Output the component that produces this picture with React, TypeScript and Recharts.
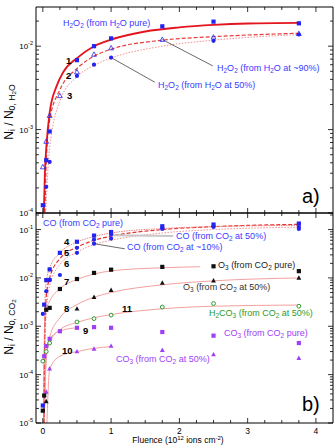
import React from 'react';
import { ComposedChart, Line, Scatter, XAxis, YAxis, ReferenceLine } from 'recharts';

const FONT = '"Liberation Sans", Arial, sans-serif';

// ---- panel a) H2O2 produced from H2O ----
const fluenceA = [0, 0.05, 0.1, 0.25, 0.5, 0.75, 1, 1.75, 2.5, 3.75];
const h2o2Pure = [1.24e-4, 4.3e-4, 9.5e-4, null, 6.8e-3, 1.0e-2, 1.24e-2, 1.73e-2, 1.97e-2, 1.88e-2];
const h2o2At90 = [3.56e-4, 7.2e-4, 1.47e-3, 2.54e-3, 4.9e-3, 7.96e-3, 9.5e-3, 1.2e-2, 1.28e-2, 1.41e-2];
const h2o2At50 = [null, 2.06e-4, 4.1e-4, null, 4.4e-3, 6.0e-3, 7.3e-3, null, 1.16e-2, 1.38e-2];

// fit curves
const fit1X = [0.015, 0.03, 0.05, 0.1, 0.2, 0.3, 0.5, 0.75, 1, 1.5, 2, 2.5, 3, 3.75];
const fit1Y = [1e-4, 3e-4, 6e-4, 1.6e-3, 3.3e-3, 4.9e-3, 7.2e-3, 1.0e-2, 1.2e-2, 1.5e-2, 1.68e-2, 1.8e-2, 1.87e-2, 1.9e-2];
const fit2X = [0.03, 0.05, 0.1, 0.25, 0.5, 0.75, 1, 1.75, 2.5, 3.75];
const fit2Y = [1e-4, 4e-4, 1.3e-3, 3e-3, 5.4e-3, 7.6e-3, 9.2e-3, 1.18e-2, 1.3e-2, 1.43e-2];
const fit3X = [0.04, 0.1, 0.25, 0.5, 0.75, 1, 1.75, 2.5, 3.75];
const fit3Y = [1e-4, 6e-4, 2.2e-3, 4.3e-3, 5.9e-3, 7.2e-3, 1.0e-2, 1.18e-2, 1.38e-2];

// ---- panel b) products from CO2 ----
const fluenceB = [0, 0.02, 0.05, 0.1, 0.25, 0.5, 0.75, 1, 1.75, 2.5, 3.75];
const coPure = [2.3e-5, 2.8e-3, 9e-3, 1.5e-2, 3.3e-2, 5.6e-2, 7.5e-2, 8.9e-2, 1.17e-1, 1.27e-1, 1.33e-1];
const coAt50 = [null, null, null, 9e-3, 1.15e-2, 4.2e-2, 6.2e-2, 7.9e-2, 1.03e-1, 1.17e-1, 1.03e-1];
const coAt10 = [1.8e-3, null, 5.3e-3, 9.2e-3, null, 3.3e-2, 5.1e-2, 6.5e-2, 1.08e-1, 1.13e-1, 1.13e-1];
const o3Pure = [1.8e-5, 3.7e-5, 2.2e-3, 2.4e-3, 5.9e-3, 9.5e-3, 1.27e-2, 1.48e-2, 1.69e-2, 1.74e-2, 1.38e-2];
const o3At50 = [null, null, 2.8e-5, null, null, 2.3e-3, 4.0e-3, 5.6e-3, 7.9e-3, 8.8e-3, 1.0e-2];
const h2co3At50 = [1.9e-4, null, 3.0e-4, 4.5e-4, null, 1.23e-3, 1.44e-3, 1.7e-3, 2.5e-3, 2.95e-3, 2.6e-3];
const co3Pure = [null, 2.4e-4, 3.9e-4, 5.5e-4, 7.9e-4, 9.3e-4, 9.6e-4, 9.3e-4, 7.6e-4, 6.4e-4, 4.5e-4];
const co3At50 = [null, null, 4.4e-5, 1.33e-4, null, 3.0e-4, 3.4e-4, 3.9e-4, 3.2e-4, 2.6e-4, 2.2e-4];

const fit4X = [0.01, 0.03, 0.05, 0.1, 0.25, 0.5, 0.75, 1, 1.75, 2.5, 3.75];
const fit4Y = [1e-5, 3e-3, 8e-3, 1.6e-2, 3.3e-2, 5.5e-2, 7.2e-2, 8.5e-2, 1.05e-1, 1.15e-1, 1.22e-1];
const fit5X = [0.015, 0.03, 0.05, 0.1, 0.25, 0.5, 0.75, 1, 1.75, 2.5, 3.75];
const fit5Y = [1e-5, 1e-3, 4e-3, 1e-2, 2.5e-2, 4.3e-2, 6e-2, 7.3e-2, 1e-1, 1.15e-1, 1.28e-1];
const fit6X = [0.02, 0.04, 0.1, 0.25, 0.5, 0.75, 1, 1.75, 2.5, 3.75];
const fit6Y = [1e-5, 1e-3, 7e-3, 1.9e-2, 3.4e-2, 4.9e-2, 6e-2, 8.5e-2, 1e-1, 1.12e-1];
const fit7X = [0.01, 0.03, 0.05, 0.1, 0.25, 0.5, 0.75, 1, 1.75, 2.3];
const fit7Y = [1e-5, 1e-3, 2.2e-3, 3.3e-3, 6e-3, 9.3e-3, 1.2e-2, 1.4e-2, 1.62e-2, 1.7e-2];
const fit8X = [0.02, 0.05, 0.1, 0.25, 0.5, 0.75, 1, 1.75, 2.5, 3.75];
const fit8Y = [1e-5, 2e-4, 6e-4, 1.5e-3, 2.8e-3, 4e-3, 5e-3, 7.2e-3, 8.7e-3, 1e-2];
const fit9X = [0.02, 0.05, 0.1, 0.25, 0.5];
const fit9Y = [1e-5, 3e-4, 5.3e-4, 8e-4, 9.3e-4];
const fit10X = [0.06, 0.1, 0.25, 0.5, 0.75, 1];
const fit10Y = [1e-5, 1.3e-4, 2.4e-4, 3e-4, 3.5e-4, 3.8e-4];
const fit11X = [0.02, 0.05, 0.1, 0.25, 0.5, 0.75, 1, 1.75, 2.5, 3.75];
const fit11Y = [1e-5, 2.5e-4, 4.5e-4, 8.5e-4, 1.2e-3, 1.5e-3, 1.75e-3, 2.3e-3, 2.6e-3, 2.75e-3];

const xMajor = [0, 1, 2, 3, 4];
const xTicks = [0, 0.25, 0.5, 0.75, 1, 1.25, 1.5, 1.75, 2, 2.25, 2.5, 2.75, 3, 3.25, 3.5, 3.75, 4];
const decadesA = [1e-4, 1e-3, 1e-2];
const decadesB = [1e-5, 1e-4, 1e-3, 1e-2, 1e-1];
const mult = [1, 2, 3, 4, 5, 6, 7, 8, 9];
const yTicksA = decadesA.flatMap((d) => mult.map((m) => m * d)).filter((v) => v < 0.029);
const yTicksB = decadesB.flatMap((d) => mult.map((m) => m * d)).filter((v) => v < 0.21);

const pts = (xs: number[], ys: (number | null)[]) =>
  xs.map((x, i) => ({ x, y: ys[i] })).filter((p) => p.y != null);

const BLUE = '#2424f0';
const TXT_BLUE = '#3a3aff';
const GREEN = '#2a9a2a';
const PURPLE = '#a040f5';
const BLACK = '#111';

const isDecade = (v: number) => Math.abs(Math.log10(v) - Math.round(Math.log10(v))) < 1e-6;

const LeftTick = (p: any) => {
  const v = p.payload.value;
  const major = isDecade(v);
  return (
    <g>
      <line x1={p.x} x2={p.x + (major ? 5 : 3)} y1={p.y} y2={p.y} stroke="#000" strokeWidth={0.8} />
      {major && (
        <text x={p.x - 3} y={p.y + 3} textAnchor="end" fontSize={8} fontFamily={FONT} fill="#000">
          10<tspan dy={-4} fontSize={5.5}>{Math.round(Math.log10(v))}</tspan>
        </text>
      )}
    </g>
  );
};
const RightTick = (p: any) => {
  const major = isDecade(p.payload.value);
  return <line x1={p.x} x2={p.x - (major ? 5 : 3)} y1={p.y} y2={p.y} stroke="#000" strokeWidth={0.8} />;
};
const TopTick = (p: any) => {
  const major = xMajor.includes(p.payload.value);
  return <line x1={p.x} x2={p.x} y1={p.y} y2={p.y + (major ? 5 : 3)} stroke="#000" strokeWidth={0.8} />;
};
const BottomTick = (withLabel: boolean) => (p: any) => {
  const major = xMajor.includes(p.payload.value);
  return (
    <g>
      <line x1={p.x} x2={p.x} y1={p.y} y2={p.y - (major ? 5 : 3)} stroke="#000" strokeWidth={0.8} />
      {withLabel && major && (
        <text x={p.x} y={p.y + 11} textAnchor="middle" fontSize={8.5} fontFamily={FONT} fill="#000">
          {p.payload.value}
        </text>
      )}
    </g>
  );
};

const square = (fill: string) => (p: any) => <rect x={p.cx - 2.1} y={p.cy - 2.1} width={4.2} height={4.2} fill={fill} />;
const dot = (fill: string, open = false) => (p: any) => (
  <circle cx={p.cx} cy={p.cy} r={open ? 1.9 : 2.1} fill={open ? '#fff' : fill} stroke={fill} strokeWidth={open ? 1 : 0} />
);
const tri = (fill: string, open = false) => (p: any) => (
  <polygon
    points={`${p.cx},${p.cy - 2.6} ${p.cx - 2.4},${p.cy + 1.8} ${p.cx + 2.4},${p.cy + 1.8}`}
    fill={open ? 'none' : fill}
    stroke={fill}
    strokeWidth={open ? 0.8 : 0}
  />
);

// axes: one pixel thick so recharts still lays them out, ticks drawn inward by the tick renderers
const axes = (yDomain: number[], yTicks: number[], xLabels: boolean) => [
  <XAxis key="xb" xAxisId="b" dataKey="x" type="number" domain={[-0.1, 4.25]} allowDataOverflow ticks={xTicks} interval={0}
    height={1} tickSize={0} tickMargin={0} tickLine={false} tick={BottomTick(xLabels)} axisLine={{ stroke: '#000' }} />,
  <XAxis key="xt" xAxisId="t" orientation="top" dataKey="x" type="number" domain={[-0.1, 4.25]} allowDataOverflow ticks={xTicks} interval={0}
    height={1} tickSize={0} tickMargin={0} tickLine={false} tick={TopTick} axisLine={{ stroke: '#000' }} />,
  <YAxis key="yl" yAxisId="l" dataKey="y" type="number" scale="log" domain={yDomain} allowDataOverflow ticks={yTicks} interval={0}
    width={1} tickSize={0} tickMargin={0} tickLine={false} tick={LeftTick} axisLine={{ stroke: '#000' }} />,
  <YAxis key="yr" yAxisId="r" orientation="right" dataKey="y" type="number" scale="log" domain={yDomain} allowDataOverflow ticks={yTicks} interval={0}
    width={1} tickSize={0} tickMargin={0} tickLine={false} tick={RightTick} axisLine={{ stroke: '#000' }} />,
];

const fit = (key: string, xs: number[], ys: number[], stroke: string, width: number, dash?: string) => (
  <Line key={key} xAxisId="b" yAxisId="l" data={pts(xs, ys)} dataKey="y" type="monotone" stroke={stroke} strokeWidth={width}
    strokeDasharray={dash} dot={false} activeDot={false} isAnimationActive={false} />
);
const marks = (key: string, xs: number[], ys: (number | null)[], shape: any) => (
  <Scatter key={key} xAxisId="b" yAxisId="l" data={pts(xs, ys)} dataKey="y" shape={shape} isAnimationActive={false} />
);

const abs = (left: number, top: number, extra: React.CSSProperties = {}): React.CSSProperties => ({
  position: 'absolute', left, top, whiteSpace: 'nowrap', lineHeight: 1, fontFamily: FONT, fontSize: 9, ...extra,
});
const s = { fontSize: '0.72em', verticalAlign: '-0.25em' } as React.CSSProperties;
const sup = { fontSize: '0.7em', verticalAlign: '0.5em' } as React.CSSProperties;
const num = (left: number, top: number, t: string) => (
  <div style={abs(left, top, { fontWeight: 'bold', fontSize: 9.5, color: '#000' })}>{t}</div>
);

export default function App() {
  return (
    <div style={{ position: 'absolute', left: 0, top: 0, width: 336, height: 448, background: '#fff', overflow: 'hidden' }}>
      <div style={{ position: 'absolute', left: 0, top: 212 }}>
        <ComposedChart width={336} height={236} margin={{ top: 0, right: 2, bottom: 24, left: 35 }}>
          {axes([1e-5, 0.22], yTicksB, true)}
          {fit('f11', fit11X, fit11Y, '#f4a0a0', 1)}
          {fit('f10', fit10X, fit10Y, '#f4a0a0', 1)}
          {fit('f9', fit9X, fit9Y, '#f4a0a0', 1)}
          {fit('f8', fit8X, fit8Y, '#f4a0a0', 1)}
          {fit('f7', fit7X, fit7Y, '#f4a0a0', 1)}
          {fit('f6', fit6X, fit6Y, '#f29090', 1, '1.5 1.5')}
          {fit('f5', fit5X, fit5Y, '#e83030', 1.2, '4 2')}
          {fit('f4', fit4X, fit4Y, '#f08080', 1, '1.5 1')}
          <ReferenceLine xAxisId="b" yAxisId="l" segment={[{ x: 1, y: 7.6e-2 }, { x: 1.91, y: 7.4e-2 }]} stroke="#c8c8c8" strokeWidth={2} ifOverflow="visible" />
          <ReferenceLine xAxisId="b" yAxisId="l" segment={[{ x: 0.75, y: 5.1e-2 }, { x: 1.2, y: 4e-2 }]} stroke="#444" strokeWidth={0.8} ifOverflow="visible" />
          {marks('b8', fluenceB, co3At50, tri(PURPLE))}
          {marks('b7', fluenceB, co3Pure, square(PURPLE))}
          {marks('b6', fluenceB, h2co3At50, dot(GREEN, true))}
          {marks('b5', fluenceB, o3At50, tri(BLACK))}
          {marks('b4', fluenceB, o3Pure, square(BLACK))}
          {marks('b3', fluenceB, coAt10, dot(BLUE))}
          {marks('b2', fluenceB, coAt50, dot(BLUE))}
          {marks('b1', fluenceB, coPure, square(BLUE))}
        </ComposedChart>
      </div>
      <div style={{ position: 'absolute', left: 0, top: 0 }}>
        <ComposedChart width={336} height={222} margin={{ top: 6, right: 2, bottom: 8, left: 35 }}>
          {axes([1e-4, 0.0295], yTicksA, false)}
          {fit('f3', fit3X, fit3Y, '#f29090', 1, '1.5 1.5')}
          {fit('f2', fit2X, fit2Y, '#e83a3a', 1.2, '4 2')}
          {fit('f1', fit1X, fit1Y, '#e4151f', 1.8)}
          <ReferenceLine xAxisId="b" yAxisId="l" segment={[{ x: 1.75, y: 1.2e-2 }, { x: 2.49, y: 5.8e-3 }]} stroke="#444" strokeWidth={0.8} ifOverflow="visible" />
          <ReferenceLine xAxisId="b" yAxisId="l" segment={[{ x: 1, y: 7.3e-3 }, { x: 1.64, y: 3.7e-3 }]} stroke="#444" strokeWidth={0.8} ifOverflow="visible" />
          {marks('a3', fluenceA, h2o2At50, dot(BLUE))}
          {marks('a2', fluenceA, h2o2At90, tri(BLUE, true))}
          {marks('a1', fluenceA, h2o2Pure, square(BLUE))}
        </ComposedChart>
      </div>

      {/* panel a annotations */}
      <div style={abs(63, 19, { color: TXT_BLUE })}>H<sub style={s}>2</sub>O<sub style={s}>2</sub> (from H<sub style={s}>2</sub>O pure)</div>
      <div style={abs(217, 64, { color: TXT_BLUE })}>H<sub style={s}>2</sub>O<sub style={s}>2</sub> (from H<sub style={s}>2</sub>O at ~90%)</div>
      <div style={abs(158, 81, { color: TXT_BLUE })}>H<sub style={s}>2</sub>O<sub style={s}>2</sub> (from H<sub style={s}>2</sub>O at 50%)</div>
      {num(66, 56, '1')}
      {num(66, 71, '2')}
      {num(67, 91, '3')}
      <div style={abs(302, 186, { fontSize: 20 })}>a)</div>

      {/* panel b annotations */}
      <div style={abs(43, 219, { color: TXT_BLUE })}>CO (from CO<sub style={s}>2</sub> pure)</div>
      <div style={abs(176, 232, { color: TXT_BLUE })}>CO (from CO<sub style={s}>2</sub> at 50%)</div>
      <div style={abs(127, 243, { color: TXT_BLUE })}>CO (from CO<sub style={s}>2</sub> at ~10%)</div>
      <div style={abs(218, 261, { color: '#222' })}>O<sub style={s}>3</sub> (from CO<sub style={s}>2</sub> pure)</div>
      <div style={abs(183, 283, { color: '#333' })}>O<sub style={s}>3</sub> (from CO<sub style={s}>2</sub> at 50%)</div>
      <div style={abs(209, 309, { color: GREEN })}>H<sub style={s}>2</sub>CO<sub style={s}>3</sub> (from CO<sub style={s}>2</sub> at 50%)</div>
      <div style={abs(224, 329, { color: PURPLE })}>CO<sub style={s}>3</sub> (from CO<sub style={s}>2</sub> pure)</div>
      <div style={abs(116, 355, { color: PURPLE })}>CO<sub style={s}>3</sub> (from CO<sub style={s}>2</sub> at 50%)</div>
      {num(64, 237, '4')}
      {num(64, 248, '5')}
      {num(64, 259, '6')}
      {num(64, 277, '7')}
      {num(64, 304, '8')}
      {num(83, 326, '9')}
      {num(62, 346, '10')}
      {num(122, 304, '11')}
      <div style={abs(302, 394, { fontSize: 20 })}>b)</div>

      {/* axis titles */}
      <div style={abs(10, 112, { fontSize: 12, transform: 'translate(-50%, -50%) rotate(-90deg)' })}>
        N<sub style={s}>i</sub> / N<sub style={s}>0, H<sub style={s}>2</sub>O</sub>
      </div>
      <div style={abs(10, 327, { fontSize: 12, transform: 'translate(-50%, -50%) rotate(-90deg)' })}>
        N<sub style={s}>i</sub> / N<sub style={s}>0, CO<sub style={s}>2</sub></sub>
      </div>
      <div style={abs(178, 436, { fontSize: 8.5, transform: 'translateX(-50%)' })}>
        Fluence (10<sup style={sup}>12</sup> ions cm<sup style={sup}>-2</sup>)
      </div>
    </div>
  );
}
